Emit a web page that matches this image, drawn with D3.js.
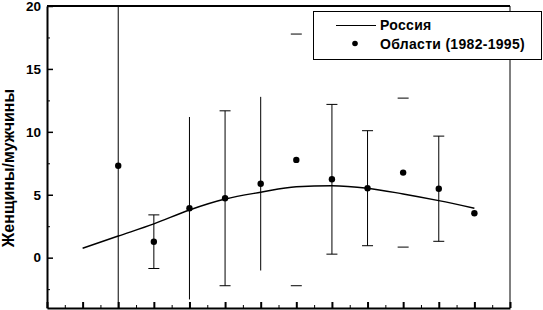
<!DOCTYPE html>
<html>
<head>
<meta charset="utf-8">
<script src="https://cdn.jsdelivr.net/npm/d3@7"></script>
<style>
  html, body { margin: 0; padding: 0; background: #fff; }
  svg { display: block; font-family: "Liberation Sans", Arial, sans-serif; }
</style>
</head>
<body>
<svg id="chart" width="543" height="310"></svg>
<script>
// Russia curve (x positions 1..12)
const russiaX = [1, 2, 3, 4, 5, 6, 7, 8, 9, 10, 11, 12];
const russiaY = [0.75, 1.72, 2.68, 3.79, 4.66, 5.2, 5.64, 5.72, 5.52, 5.06, 4.53, 3.93];

// Regions (1982-1995): mean and +/- spread
const regionX = [2, 3, 4, 5, 6, 7, 8, 9, 10, 11, 12];
const regionMean = [7.3, 1.27, 3.93, 4.72, 5.88, 7.77, 6.23, 5.52, 6.76, 5.48, 3.53];
const regionErr = [14.0, 2.13, 7.25, 6.95, 6.9, 10.0, 5.95, 4.57, 5.92, 4.18, 0];

// how each error bar was printed in the source
const hasStem = [true, true, true, true, true, false, true, true, false, true, false];
const hasCaps = [false, true, false, true, false, true, true, true, true, true, false];

const yTicks = [0, 5, 10, 15, 20];
const yMinor = [-2.5, 2.5, 7.5, 12.5, 17.5];
const xTicks = d3.range(0, 14);
const xMinor = d3.range(0.5, 13, 1);

const legendLabels = ['Россия', 'Области (1982-1995)'];
const yTitle = 'Женщины/мужчины';

const svg = d3.select('#chart');
const pl = 47, pr = 510, pt = 6, pb = 308;

const x = d3.scaleLinear().domain([0, 13]).range([pl, pr]);
const y = d3.scaleLinear().domain([-4, 20]).range([pb, pt]);

svg.append('clipPath').attr('id', 'clip')
  .append('rect')
  .attr('x', pl).attr('y', pt)
  .attr('width', pr - pl).attr('height', pb - pt);

// left axis, ticks pointing inward
const yAxis = svg.append('g')
  .attr('transform', `translate(${pl},0)`)
  .call(d3.axisLeft(y).tickValues(yTicks).tickSize(-6).tickPadding(6).tickSizeOuter(0));
yAxis.select('.domain').attr('stroke-width', 2);
yAxis.selectAll('.tick line').attr('stroke-width', 1.5);
yAxis.selectAll('text')
  .attr('font-size', 13.5)
  .attr('font-weight', 'bold')
  .attr('fill', '#000');

svg.append('g')
  .attr('transform', `translate(${pl},0)`)
  .call(d3.axisLeft(y).tickValues(yMinor).tickSize(-3).tickFormat('').tickSizeOuter(0))
  .select('.domain').remove();

// bottom axis, no labels
const xAxis = svg.append('g')
  .attr('transform', `translate(0,${pb})`)
  .call(d3.axisBottom(x).tickValues(xTicks).tickSize(-6).tickFormat('').tickSizeOuter(0));
xAxis.select('.domain').attr('stroke-width', 2);
xAxis.selectAll('.tick line').attr('stroke-width', 2);

svg.append('g')
  .attr('transform', `translate(0,${pb})`)
  .call(d3.axisBottom(x).tickValues(xMinor).tickSize(-3).tickFormat('').tickSizeOuter(0))
  .select('.domain').remove();

// top and right frame
svg.append('line')
  .attr('x1', pl).attr('x2', pr).attr('y1', pt).attr('y2', pt)
  .attr('stroke', '#000').attr('stroke-width', 2);
svg.append('line')
  .attr('x1', pr).attr('x2', pr).attr('y1', pt).attr('y2', pb)
  .attr('stroke', '#000').attr('stroke-width', 1);

const plot = svg.append('g').attr('clip-path', 'url(#clip)');

// error bars
const bars = regionX.map((k, i) => ({
  k, m: regionMean[i], e: regionErr[i], stem: hasStem[i], caps: hasCaps[i]
}));

plot.selectAll('line.stem')
  .data(bars.filter(d => d.stem))
  .enter().append('line')
  .attr('class', 'stem')
  .attr('x1', d => x(d.k)).attr('x2', d => x(d.k))
  .attr('y1', d => y(d.m + d.e)).attr('y2', d => y(d.m - d.e))
  .attr('stroke', '#000').attr('stroke-width', 1);

const capData = [];
bars.filter(d => d.caps).forEach(d => {
  capData.push({ k: d.k, v: d.m + d.e });
  capData.push({ k: d.k, v: d.m - d.e });
});
plot.selectAll('line.cap')
  .data(capData)
  .enter().append('line')
  .attr('class', 'cap')
  .attr('x1', d => x(d.k) - 5.5).attr('x2', d => x(d.k) + 5.5)
  .attr('y1', d => y(d.v)).attr('y2', d => y(d.v))
  .attr('stroke', '#000').attr('stroke-width', 1);

// Russia line
const line = d3.line()
  .x((d, i) => x(russiaX[i]))
  .y(d => y(d))
  .curve(d3.curveMonotoneX);
plot.append('path')
  .datum(russiaY)
  .attr('d', line)
  .attr('fill', 'none')
  .attr('stroke', '#000')
  .attr('stroke-width', 1.4);

// region points
plot.selectAll('circle.pt')
  .data(bars)
  .enter().append('circle')
  .attr('class', 'pt')
  .attr('cx', d => x(d.k))
  .attr('cy', d => y(d.m))
  .attr('r', 3.2)
  .attr('fill', '#000');

// y title
svg.append('text')
  .attr('transform', 'translate(14,168) rotate(-90)')
  .attr('text-anchor', 'middle')
  .attr('font-size', 16)
  .attr('font-weight', 'bold')
  .attr('fill', '#000')
  .text(yTitle);

// legend
const lg = svg.append('g');
lg.append('rect')
  .attr('x', 313.5).attr('y', 11.5)
  .attr('width', 228).attr('height', 48)
  .attr('fill', '#fff').attr('stroke', '#000').attr('stroke-width', 1);
lg.append('line')
  .attr('x1', 336).attr('x2', 376).attr('y1', 25.5).attr('y2', 25.5)
  .attr('stroke', '#000').attr('stroke-width', 1);
lg.append('circle')
  .attr('cx', 355).attr('cy', 43.5).attr('r', 2.8).attr('fill', '#000');
lg.selectAll('text')
  .data(legendLabels)
  .enter().append('text')
  .attr('x', 380)
  .attr('y', (d, i) => 30 + i * 19)
  .attr('font-size', 14)
  .attr('font-weight', 'bold')
  .attr('letter-spacing', 0.3)
  .attr('fill', '#000')
  .text(d => d);
</script>
</body>
</html>
